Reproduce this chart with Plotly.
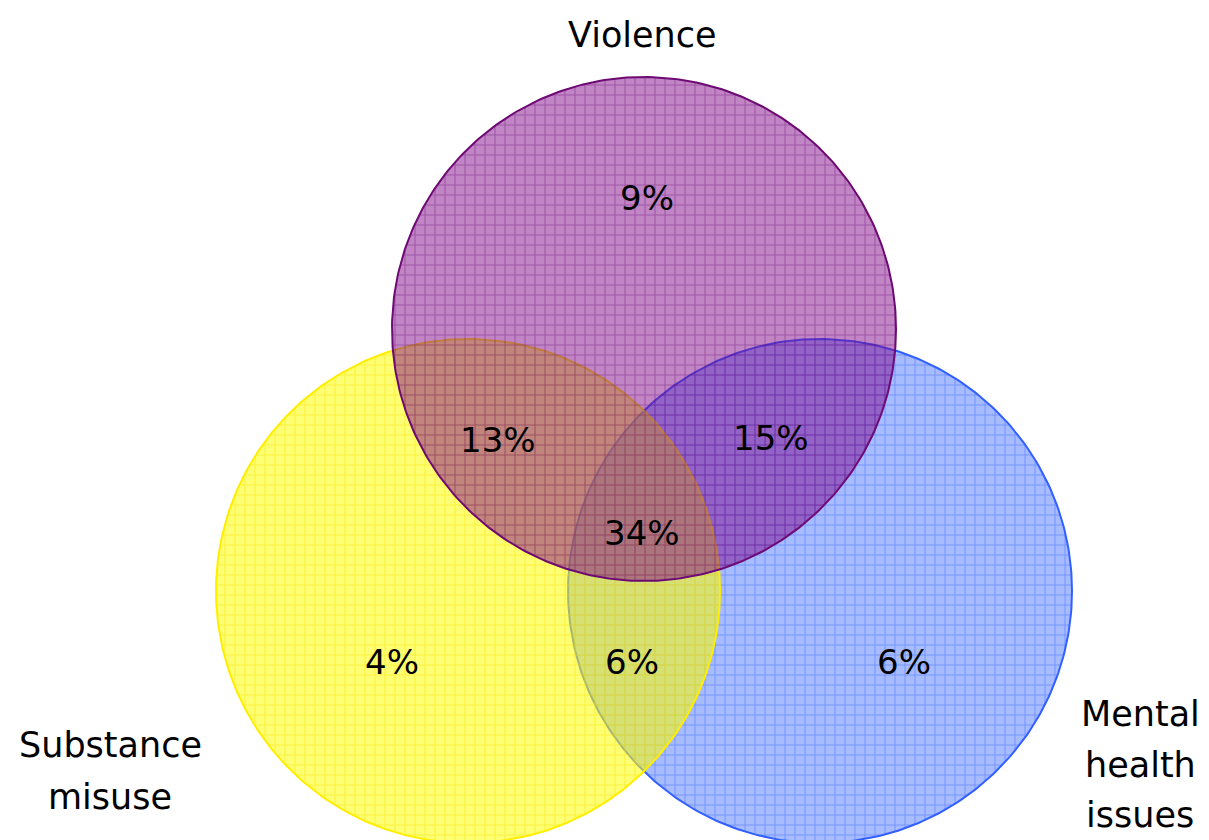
import numpy as np
import plotly.graph_objects as go

# ---- data ----
set_names = ["Violence", "Substance misuse", "Mental health issues"]
region_labels = ["9%", "13%", "15%", "34%", "4%", "6%", "6%"]
region_values = [9, 13, 15, 34, 4, 6, 6]

# ---- layout geometry (pixel space) ----
W, H = 1209, 840
R = 252
centers = {"Violence": (644, 329), "Substance misuse": (468, 591), "Mental health issues": (820, 591)}
label_pos = [(647, 198), (498, 440), (771, 438), (642, 533), (392, 662), (632, 662), (904, 662)]
set_label_lines = {"Violence": ["Violence"], "Substance misuse": ["Substance", "misuse"],
                   "Mental health issues": ["Mental", "health", "issues"]}
set_label_xy = {"Violence": (642, [35]), "Substance misuse": (110, [745, 797]),
                "Mental health issues": (1140, [714, 765, 815])}

styles = {
    "Mental health issues": dict(fill="rgba(45,95,255,0.42)", fg="rgba(40,90,255,0.75)", line="rgb(50,95,255)"),
    "Substance misuse": dict(fill="rgba(255,255,0,0.55)", fg="rgba(245,225,0,0.9)", line="rgb(255,238,0)"),
    "Violence": dict(fill="rgba(125,0,135,0.48)", fg="rgba(95,0,105,0.7)", line="rgb(110,10,115)"),
}
draw_order = ["Mental health issues", "Substance misuse", "Violence"]

FONT = "DejaVu Sans"
fig = go.Figure()
t = np.linspace(0, 2 * np.pi, 361)
for name in draw_order:
    cx, cy = centers[name]
    st = styles[name]
    fig.add_trace(go.Scatter(
        x=cx + R * np.cos(t), y=cy + R * np.sin(t), mode="lines", fill="toself",
        fillcolor=st["fill"],
        fillpattern=dict(shape="+", size=10, solidity=0.2, fgcolor=st["fg"], bgcolor=st["fill"]),
        line=dict(color=st["line"], width=2), hoverinfo="skip", showlegend=False))

for (x, y), lab in zip(label_pos, region_labels):
    fig.add_annotation(x=x, y=y, text=lab, showarrow=False, xref="x", yref="y",
                       font=dict(family=FONT, size=34, color="black"))
for name in set_names:
    x, ys = set_label_xy[name]
    for line_txt, y in zip(set_label_lines[name], ys):
        fig.add_annotation(x=x, y=y, text=line_txt, showarrow=False, xref="x", yref="y",
                           font=dict(family=FONT, size=35, color="black"))

fig.update_layout(
    width=W, height=H, margin=dict(l=0, r=0, t=0, b=0),
    paper_bgcolor="white", plot_bgcolor="white",
    xaxis=dict(range=[0, W], visible=False, fixedrange=True),
    yaxis=dict(range=[H, 0], visible=False, fixedrange=True),
)
fig.write_html("out.html")
